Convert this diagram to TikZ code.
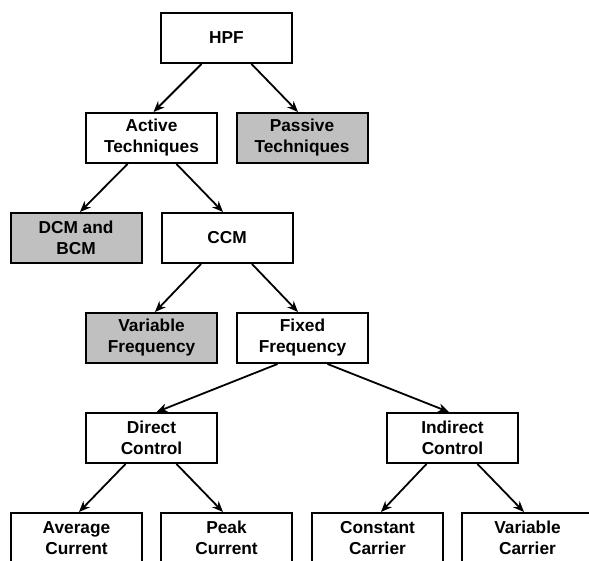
\documentclass[tikz,border=0pt]{standalone}
\usepackage{fontspec}
\setmainfont{Liberation Sans}
\usetikzlibrary{arrows.meta}
\definecolor{boxgray}{RGB}{192,192,192}
\tikzset{
  box/.style={draw=black, line width=2pt, fill=white, minimum width=131pt, minimum height=50pt,
    inner sep=0pt, align=center, font=\fontsize{17.3}{21}\selectfont\bfseries},
  graybox/.style={box, fill=boxgray},
  conn/.style={line width=1.8pt, -{Stealth[length=11pt,width=9pt]}}
}
\begin{document}
\begin{tikzpicture}[x=1pt,y=-1pt]
\useasboundingbox (0,0) rectangle (589,561);
\clip (0,0) rectangle (589,561);
\node[box] (hpf) at (226.5,38) {HPF};
\node[box] (act) at (151.5,138) {Active\\Techniques};
\node[graybox] (pas) at (302,138) {Passive\\Techniques};
\node[graybox] (dcm) at (76,238) {DCM and\\BCM};
\node[box] (ccm) at (227,238) {CCM};
\node[graybox] (vf) at (151.5,338) {Variable\\Frequency};
\node[box] (ff) at (302.5,338) {Fixed\\Frequency};
\node[box] (dc) at (151.5,438) {Direct\\Control};
\node[box] (ic) at (452.5,438) {Indirect\\Control};
\node[box] (ac) at (76.5,538) {Average\\Current};
\node[box] (pc) at (226.5,538) {Peak\\Current};
\node[box] (cc) at (377.5,538) {Constant\\Carrier};
\node[box] (vc) at (527.5,538) {Variable\\Carrier};
\draw[conn] ([xshift=-25pt]hpf.south) -- ([xshift=2pt]act.north);
\draw[conn] ([xshift=25pt]hpf.south) -- ([xshift=-4pt]pas.north);
\draw[conn] ([xshift=-24pt]act.south) -- ([xshift=4pt]dcm.north);
\draw[conn] ([xshift=25pt]act.south) -- ([xshift=-4pt]ccm.north);
\draw[conn] ([xshift=-26pt]ccm.south) -- ([xshift=3.5pt]vf.north);
\draw[conn] ([xshift=25pt]ccm.south) -- ([xshift=-4.5pt]ff.north);
\draw[conn] ([xshift=-25pt]ff.south) -- ([xshift=5pt]dc.north);
\draw[conn] ([xshift=25pt]ff.south) -- ([xshift=-3.5pt]ic.north);
\draw[conn] ([xshift=-26pt]dc.south) -- ([xshift=2.5pt]ac.north);
\draw[conn] ([xshift=25pt]dc.south) -- ([xshift=-3.5pt]pc.north);
\draw[conn] ([xshift=-26pt]ic.south) -- ([xshift=3.5pt]cc.north);
\draw[conn] ([xshift=25pt]ic.south) -- ([xshift=-3.5pt]vc.north);
\end{tikzpicture}
\end{document}
